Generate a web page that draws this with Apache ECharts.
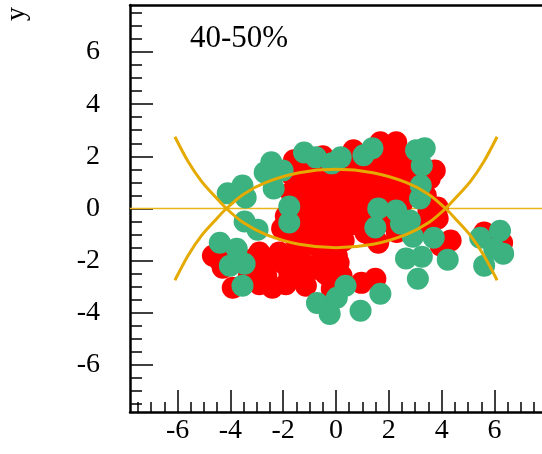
<!DOCTYPE html>
<html><head><meta charset="utf-8">
<script src="https://cdn.jsdelivr.net/npm/echarts@6/dist/echarts.min.js"></script>
<style>html,body{margin:0;padding:0;background:#fff}#c{width:542px;height:454px}</style>
</head><body><div id="c"></div><script>
const xMajorTicks = [-6,-4,-2,0,2,4,6];
const xMinorTicks = [-7.5,-7,-6.5,-5.5,-5,-4.5,-3.5,-3,-2.5,-1.5,-1,-0.5,0.5,1,1.5,2.5,3,3.5,4.5,5,5.5,6.5,7,7.5];
const yMajorTicks = [-6,-4,-2,0,2,4,6];
const yMinorTicks = [-7.5,-7,-6.5,-5.5,-5,-4.5,-3.5,-3,-2.5,-1.5,-1,-0.5,0.5,1,1.5,2.5,3,3.5,4.5,5,5.5,6.5,7,7.5];

const redPoints = [
[-1.59,1.85],[-1.40,1.27],[-1.40,0.50],[-1.40,-0.27],[-1.59,-0.85],[-1.96,-0.85],
[-0.84,1.65],[-0.84,0.88],[-0.84,0.12],[-0.84,-0.65],[-0.65,-1.23],
[-0.27,1.27],[-0.27,0.50],[-0.27,-0.27],[-0.09,-1.04],
[0.29,1.27],[0.29,0.50],[0.48,-0.27],[0.29,-1.23],
[0.66,2.23],[0.85,1.46],[1.04,0.69],[1.04,-0.27],[1.11,-0.92],
[1.60,1.85],[1.68,2.54],[1.79,1.08],[2.16,0.69],[2.28,2.54],[2.05,1.92],[2.54,1.46],[2.73,0.69],
[3.74,1.46],[3.55,1.15],[3.85,0.04],[3.85,-0.38],[4.34,-1.23],[3.96,-1.42],
[1.34,-1.04],[1.60,-1.31],[5.61,-0.92],[5.99,-1.23],[6.29,-1.31],
[-1.10,1.60],[-1.10,0.90],[-1.10,0.20],[-1.10,-0.50],[-0.50,2.00],[-0.50,1.50],[-0.50,0.90],
[-0.50,0.20],[-0.50,-0.50],[0.00,1.00],[0.00,0.20],[0.10,-0.60],[0.60,1.80],[0.60,1.00],
[0.60,0.20],[0.60,-0.60],[1.30,1.50],[1.30,0.90],[1.30,0.30],[1.30,-0.40],[1.90,1.50],
[1.90,0.40],[2.00,-0.50],[2.50,1.00],[2.50,0.20],[3.00,1.30],[3.00,0.90],[3.40,0.50],
[3.50,-0.10],[3.20,-0.70],[2.30,-0.90],[1.90,2.20],[1.20,2.00],[2.60,2.00],[3.00,1.80],
[-1.90,-0.30],[-1.70,0.60],[-1.70,1.30],
[-4.66,-1.81],[-4.29,-2.27],[-3.91,-3.04],[-2.90,-1.69],[-3.09,-1.92],[-2.64,-2.58],[-2.41,-3.04],
[-1.77,-2.46],[-1.29,-2.69],[-1.14,-2.96],[-2.15,-1.69],[-1.40,-1.69],[-0.76,-2.31],
[-0.20,-2.69],[-0.16,-3.08],[0.03,-1.81],[-0.01,-1.42],[-0.76,-1.42],[-1.14,-0.92],
[-2.04,-0.77],[-0.65,-0.77],[0.21,-2.58],[0.96,-2.85],[1.49,-2.69],[0.10,-2.08],
[-4.40,-2.00],[-3.30,-2.60],[-3.00,-2.30],[-2.50,-2.00],[-2.00,-2.10],[-1.60,-2.00],
[-1.00,-2.20],[-0.40,-1.80],[-0.40,-2.50],[-1.90,-2.90],[-2.90,-2.90],[-1.50,-1.20]
];

const greenPoints = [
[-4.10,0.58],[-3.54,0.88],[-3.42,0.42],[-3.46,-0.50],[-2.97,-0.81],
[-2.45,1.77],[-2.70,1.38],[-2.02,1.46],[-2.36,0.77],[-1.77,0.08],[-1.77,-0.54],
[-1.21,2.15],[-0.76,1.96],[-0.16,1.73],[0.18,1.96],[1.04,2.04],[1.38,2.31],
[3.03,2.23],[3.36,2.31],[3.25,1.65],[3.21,0.88],[3.18,0.38],
[1.60,0.00],[2.28,-0.08],[1.49,-0.73],[2.80,-0.46],[2.46,-0.58],[2.91,-1.08],[3.70,-1.12],
[2.65,-1.92],[3.25,-1.85],[4.23,-1.96],[3.10,-2.69],
[5.46,-1.12],[6.21,-0.85],[6.33,-1.73],[5.61,-2.19],[5.99,-1.54],
[-4.40,-1.31],[-3.76,-1.54],[-4.02,-2.19],[-3.46,-2.12],[-3.54,-2.96],
[-0.72,-3.62],[-0.24,-4.04],[0.03,-3.42],[0.36,-2.96],[0.93,-3.92],[1.68,-3.27]
];

const curveUpper = [[-6.1,-2.75],[-5.6,-1.8],[-5.1,-1.05],[-4.6,-0.48],[-4.15,0],[-3.5,0.55],[-2.65,1.0],[-1.4,1.37],[0,1.5],[1.4,1.37],[2.65,1.0],[3.5,0.55],[4.15,0],[4.6,-0.48],[5.1,-1.05],[5.6,-1.8],[6.1,-2.75]];
const curveLower = [[-6.1,2.75],[-5.6,1.8],[-5.1,1.05],[-4.6,0.48],[-4.15,0],[-3.5,-0.55],[-2.65,-1.0],[-1.4,-1.37],[0,-1.5],[1.4,-1.37],[2.65,-1.0],[3.5,-0.55],[4.15,0],[4.6,0.48],[5.1,1.05],[5.6,1.8],[6.1,2.75]];
const zeroLine = [[-7.8,0],[7.8,0]];

const FONT = 'Liberation Serif';
const chart = echarts.init(document.getElementById('c'), null, {renderer:'canvas'});
function xa(extra){ return Object.assign({type:'value', min:-7.8, max:7.8, splitLine:{show:false}}, extra); }
chart.setOption({
  animation:false,
  backgroundColor:'#fff',
  title:{text:'40-50%', left:190, top:23, padding:0,
    textStyle:{fontFamily:FONT, fontSize:31, fontWeight:'normal', color:'#000'}},
  graphic:[{type:'text', x:17, y:14, rotation:Math.PI/2,
    style:{text:'y', fontFamily:FONT, fontSize:28, fill:'#000', align:'center', verticalAlign:'middle'}}],
  grid:{left:130, top:5, width:415, height:407, containLabel:false},
  xAxis:[
    xa({position:'bottom', axisLine:{onZero:false, lineStyle:{color:'#000', width:2.5}},
      axisTick:{inside:true, length:22, customValues:xMajorTicks, lineStyle:{color:'#000', width:1.5}},
      axisLabel:{customValues:xMajorTicks, color:'#000', fontFamily:FONT, fontSize:28, margin:5}}),
    xa({position:'bottom', axisLine:{show:false, onZero:false},
      axisTick:{inside:true, length:10, customValues:xMinorTicks, lineStyle:{color:'#000', width:1.5}},
      axisLabel:{show:false}}),
    xa({position:'top', axisLine:{onZero:false, lineStyle:{color:'#000', width:2.5}},
      axisTick:{show:false}, axisLabel:{show:false}})
  ],
  yAxis:[
    {type:'value', min:-7.8, max:7.8, position:'left', splitLine:{show:false},
      axisLine:{onZero:false, lineStyle:{color:'#000', width:2.5}},
      axisTick:{inside:true, length:23, customValues:yMajorTicks, lineStyle:{color:'#000', width:1.5}},
      axisLabel:{customValues:yMajorTicks, color:'#000', fontFamily:FONT, fontSize:28, margin:30}},
    {type:'value', min:-7.8, max:7.8, position:'left', splitLine:{show:false},
      axisLine:{show:false, onZero:false},
      axisTick:{inside:true, length:12, customValues:yMinorTicks, lineStyle:{color:'#000', width:1.5}},
      axisLabel:{show:false}}
  ],
  series:[
    {type:'line', data:zeroLine, symbol:'none', lineStyle:{color:'#ebb51c', width:1.5}, z:1},
    {type:'scatter', data:redPoints, symbol:'circle', symbolSize:22, itemStyle:{color:'#ff0000', opacity:1}, z:2},
    {type:'scatter', data:greenPoints, symbol:'circle', symbolSize:22, itemStyle:{color:'#3bb27f', opacity:1}, z:3},
    {type:'line', data:curveUpper, symbol:'none', smooth:0.3, lineStyle:{color:'#e5aa00', width:3}, z:4},
    {type:'line', data:curveLower, symbol:'none', smooth:0.3, lineStyle:{color:'#e5aa00', width:3}, z:4}
  ]
});
</script></body></html>
